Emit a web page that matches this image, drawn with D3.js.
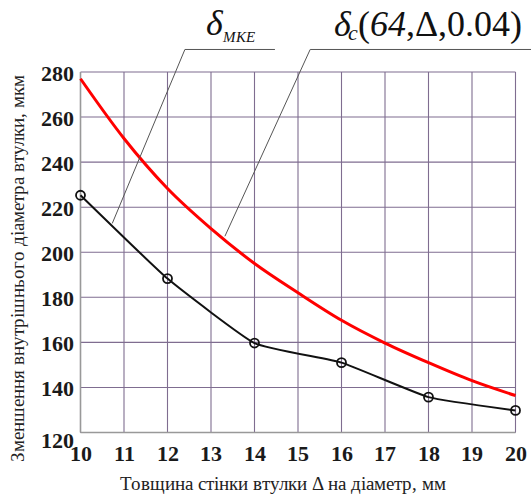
<!DOCTYPE html>
<html>
<head>
<meta charset="utf-8">
<script src="https://cdn.jsdelivr.net/npm/d3@7"></script>
<style>
  @font-face { font-family: "TimesLike"; font-weight: normal; font-style: normal;
    src: local("Liberation Serif"), local("LiberationSerif"), local("LiberationSerif-Regular"); }
  @font-face { font-family: "TimesLike"; font-weight: bold; font-style: normal;
    src: local("Liberation Serif Bold"), local("LiberationSerif-Bold"); }
  @font-face { font-family: "TimesLike"; font-weight: normal; font-style: italic;
    src: local("Liberation Serif Italic"), local("LiberationSerif-Italic"); }
  body { margin: 0; }
  svg text { font-family: "TimesLike", "Liberation Serif", serif; }
</style>
</head>
<body>
<script>
// thickness values, mm
const xTicks = [10, 11, 12, 13, 14, 15, 16, 17, 18, 19, 20];
const yTicks = [120, 140, 160, 180, 200, 220, 240, 260, 280];

// red curve: delta_c(64, D, 0.04)
const redX = [10, 11, 12, 13, 14, 15, 16, 17, 18, 19, 20];
const redY = [277, 250.5, 228.3, 210.5, 195, 182, 169.8, 159.7, 151, 143, 136.4];

// black curve: delta_MKE (FEM points)
const blackX = [10, 12, 14, 16, 18, 20];
const blackY = [225.3, 188.3, 159.7, 151, 135.7, 129.8];

// leader lines: anchor on curve, then corner and end of the shelf
const notes = [
  { label: "MKE", ax: 10.73, ay: 212.8, cx: 12.4, ex: 14.47, ly: 290 },
  { label: "c", ax: 13.32, ay: 207.1, cx: 15.28, ex: 20.36, ly: 290 }
];

const w = 531;
const h = 496;

const xScale = d3.scaleLinear().domain([10, 20]).range([80.5, 515.5]);
const yScale = d3.scaleLinear().domain([120, 280]).range([432.5, 72]);

const svg = d3.select("body")
  .append("svg")
  .attr("width", w)
  .attr("height", h);

// grid
const grid = svg.append("g").attr("stroke", "#7f6d90").attr("stroke-width", 1.1);
grid.selectAll("line.v")
  .data(xTicks)
  .enter()
  .append("line")
  .attr("x1", d => xScale(d))
  .attr("x2", d => xScale(d))
  .attr("y1", yScale(280))
  .attr("y2", yScale(120));
grid.selectAll("line.h")
  .data(yTicks)
  .enter()
  .append("line")
  .attr("x1", xScale(10))
  .attr("x2", xScale(20))
  .attr("y1", d => yScale(d))
  .attr("y2", d => yScale(d));

// left and bottom frame
svg.append("line")
  .attr("x1", xScale(10)).attr("x2", xScale(10))
  .attr("y1", yScale(280)).attr("y2", yScale(120))
  .attr("stroke", "#999").attr("stroke-width", 1.5);
svg.append("line")
  .attr("x1", xScale(10)).attr("x2", xScale(20))
  .attr("y1", yScale(120)).attr("y2", yScale(120))
  .attr("stroke", "#999").attr("stroke-width", 1.5);

// tick labels
svg.selectAll("text.ytick")
  .data(yTicks)
  .enter()
  .append("text")
  .attr("class", "ytick")
  .attr("x", 74)
  .attr("y", d => yScale(d))
  .attr("dy", d => d === 120 ? "0.7em" : "0.4em")
  .attr("text-anchor", "end")
  .style("font-size", "22px")
  .style("font-weight", "bold")
  .attr("fill", "#1a1a1a")
  .text(d => d);

svg.selectAll("text.xtick")
  .data(xTicks)
  .enter()
  .append("text")
  .attr("class", "xtick")
  .attr("x", d => xScale(d))
  .attr("y", 461)
  .attr("text-anchor", "middle")
  .style("font-size", "22px")
  .style("font-weight", "bold")
  .attr("fill", "#1a1a1a")
  .text(d => d);

// axis titles
svg.append("text")
  .attr("x", 283)
  .attr("y", 490)
  .attr("text-anchor", "middle")
  .style("font-size", "19px")
  .attr("fill", "#222")
  .text("Товщина стінки втулки Δ на діаметр, мм");

svg.append("text")
  .attr("transform", "translate(24,268) rotate(-90)")
  .attr("text-anchor", "middle")
  .style("font-size", "19px")
  .attr("fill", "#222")
  .text("Зменшення внутрішнього діаметра втулки, мкм");

// curves
const redData = redX.map((x, i) => [x, redY[i]]);
const blackData = blackX.map((x, i) => [x, blackY[i]]);

const redLine = d3.line()
  .x(d => xScale(d[0]))
  .y(d => yScale(d[1]))
  .curve(d3.curveMonotoneX);

const blackLine = d3.line()
  .x(d => xScale(d[0]))
  .y(d => yScale(d[1]))
  .curve(d3.curveCardinal.tension(0.6));

svg.append("path")
  .datum(redData)
  .attr("d", redLine)
  .attr("fill", "none")
  .attr("stroke", "#f00")
  .attr("stroke-width", 3);

svg.append("path")
  .datum(blackData)
  .attr("d", blackLine)
  .attr("fill", "none")
  .attr("stroke", "#111")
  .attr("stroke-width", 2);

svg.selectAll("circle.pt")
  .data(blackData)
  .enter()
  .append("circle")
  .attr("class", "pt")
  .attr("cx", d => xScale(d[0]))
  .attr("cy", d => yScale(d[1]))
  .attr("r", 4.5)
  .attr("fill", "none")
  .attr("stroke", "#111")
  .attr("stroke-width", 1.8);

// leader lines
svg.selectAll("path.lead")
  .data(notes)
  .enter()
  .append("path")
  .attr("class", "lead")
  .attr("d", d => "M" + xScale(d.ax) + "," + yScale(d.ay) +
    "L" + xScale(d.cx) + "," + yScale(d.ly) +
    "L" + xScale(d.ex) + "," + yScale(d.ly))
  .attr("fill", "none")
  .attr("stroke", "#555")
  .attr("stroke-width", 1);

// labels
const l1 = svg.append("text")
  .attr("x", (xScale(notes[0].cx) + xScale(notes[0].ex)) / 2 + 1)
  .attr("y", yScale(notes[0].ly) - 14)
  .attr("text-anchor", "middle")
  .attr("fill", "#111");
l1.append("tspan").style("font-size", "36px").style("font-style", "italic").text("δ");
l1.append("tspan").style("font-size", "15px").style("font-style", "italic").attr("dy", 7).text(notes[0].label);

const l2 = svg.append("text")
  .attr("x", (xScale(notes[1].cx) + xScale(notes[1].ex)) / 2 + 7)
  .attr("y", yScale(notes[1].ly) - 13)
  .attr("text-anchor", "middle")
  .attr("fill", "#111");
l2.append("tspan").style("font-size", "36px").style("font-style", "italic").text("δ");
l2.append("tspan").style("font-size", "22px").style("font-style", "italic").attr("dy", 4).attr("dx", -3).text(notes[1].label);
l2.append("tspan").style("font-size", "36px").attr("dy", -4).text("(");
l2.append("tspan").style("font-size", "36px").style("font-style", "italic").text("64");
l2.append("tspan").style("font-size", "36px").text(",Δ,0.04)");
</script>
</body>
</html>
